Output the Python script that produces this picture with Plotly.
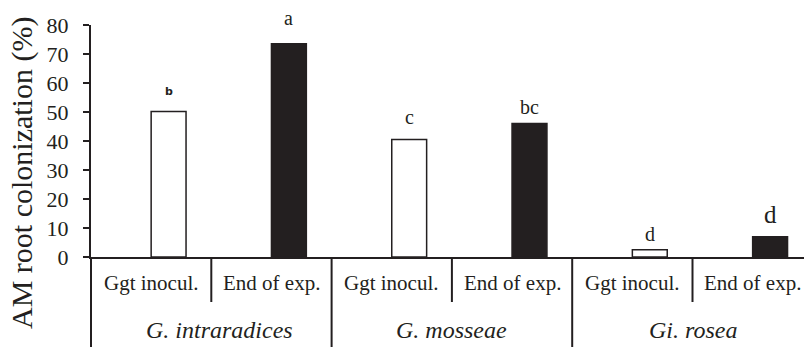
import plotly.graph_objects as go

groups = ["G. intraradices", "G. mosseae", "Gi. rosea"]
timepoints = ["Ggt inocul.", "End of exp."]
ggt_values = [50.2, 40.5, 2.5]
end_values = [73.5, 46.0, 7.0]
ggt_letters = ["b", "c", "d"]
end_letters = ["a", "bc", "d"]
y_ticks = [0, 10, 20, 30, 40, 50, 60, 70, 80]

FONT = "Liberation Serif"
INK = "#231f20"
W, H = 804, 347
ML, MT, MB = 91, 25, 90
plot_w = W - ML
plot_h = H - MT - MB
cat_px = 120.3
x_max = plot_w / cat_px

ggt_x = [2 * i + 0.5 for i in range(len(groups))]
end_x = [2 * i + 1.5 for i in range(len(groups))]

fig = go.Figure()
fig.add_trace(go.Bar(x=ggt_x, y=ggt_values, width=0.29, offset=0,
                     marker=dict(color="white", line=dict(color=INK, width=1.5)),
                     showlegend=False))
fig.add_trace(go.Bar(x=end_x, y=end_values, width=0.29, offset=0,
                     marker=dict(color=INK, line=dict(color=INK, width=1.5)),
                     showlegend=False))

ann = []
# significance letters (size, vertical gap above bar top in px, family, weight)
ggt_style = [(11, 11, "DejaVu Sans", "bold"), (20, 10, FONT, "normal"), (20, 3, FONT, "normal")]
end_style = [(20, 13, FONT, "normal"), (20, 4, FONT, "normal"), (25, 7, FONT, "normal")]
for xs, vals, lets, styles in [(ggt_x, ggt_values, ggt_letters, ggt_style),
                               (end_x, end_values, end_letters, end_style)]:
    for xv, v, l, (sz, gap, fam, wt) in zip(xs, vals, lets, styles):
        ann.append(dict(x=xv + 0.145, y=v, yanchor="bottom", xanchor="center", yshift=gap,
                        text=l, showarrow=False,
                        font=dict(family=fam, size=sz, color=INK, weight=wt)))

# category and group labels
for i, g in enumerate(groups):
    for j, t in enumerate(timepoints):
        ann.append(dict(x=2 * i + j + 0.5, xref="x", y=-26 / plot_h, yref="paper",
                        text=t, showarrow=False, xanchor="center", yanchor="middle",
                        font=dict(family=FONT, size=21, color=INK)))
    ann.append(dict(x=2 * i + 1.0 + (0.07 if i == 0 else 0), xref="x", y=-73 / plot_h, yref="paper",
                    text="<i>" + g + "</i>", showarrow=False, xanchor="center", yanchor="middle",
                    font=dict(family=FONT, size=24, color=INK)))

# y-axis title
ann.append(dict(x=-69 / plot_w, xref="paper", y=(257 - 173) / plot_h, yref="paper",
                text="AM root colonization (%)", textangle=-90, showarrow=False,
                xanchor="center", yanchor="middle",
                font=dict(family=FONT, size=30, color=INK)))

shapes = []
shapes.append(dict(type="line", xref="paper", yref="paper", x0=0, x1=0, y0=0, y1=-(MB + 5) / plot_h,
                   line=dict(color=INK, width=2)))
for b in range(1, 6):
    depth = 45 if b % 2 == 1 else MB + 5
    shapes.append(dict(type="line", xref="x", yref="paper", x0=b, x1=b, y0=0, y1=-depth / plot_h,
                       line=dict(color=INK, width=2)))

fig.update_layout(
    width=W, height=H,
    margin=dict(l=ML, r=0, t=MT, b=MB, autoexpand=False),
    paper_bgcolor="white", plot_bgcolor="white",
    barmode="overlay",
    annotations=ann, shapes=shapes,
    xaxis=dict(range=[0, x_max], showticklabels=False, ticks="", showgrid=False, zeroline=False,
               showline=True, linecolor=INK, linewidth=2, fixedrange=True),
    yaxis=dict(range=[0, 80], tickvals=y_ticks, ticks="outside", ticklen=6, tickwidth=2,
               tickcolor=INK, showgrid=False, zeroline=False,
               showline=True, linecolor=INK, linewidth=2,
               tickfont=dict(family=FONT, size=22, color=INK),
               ticklabelstandoff=10, automargin=False),
)

fig.write_html("out.html", config={"displayModeBar": False},
               post_script="document.body.style.margin='0';document.body.style.overflow='hidden';")
